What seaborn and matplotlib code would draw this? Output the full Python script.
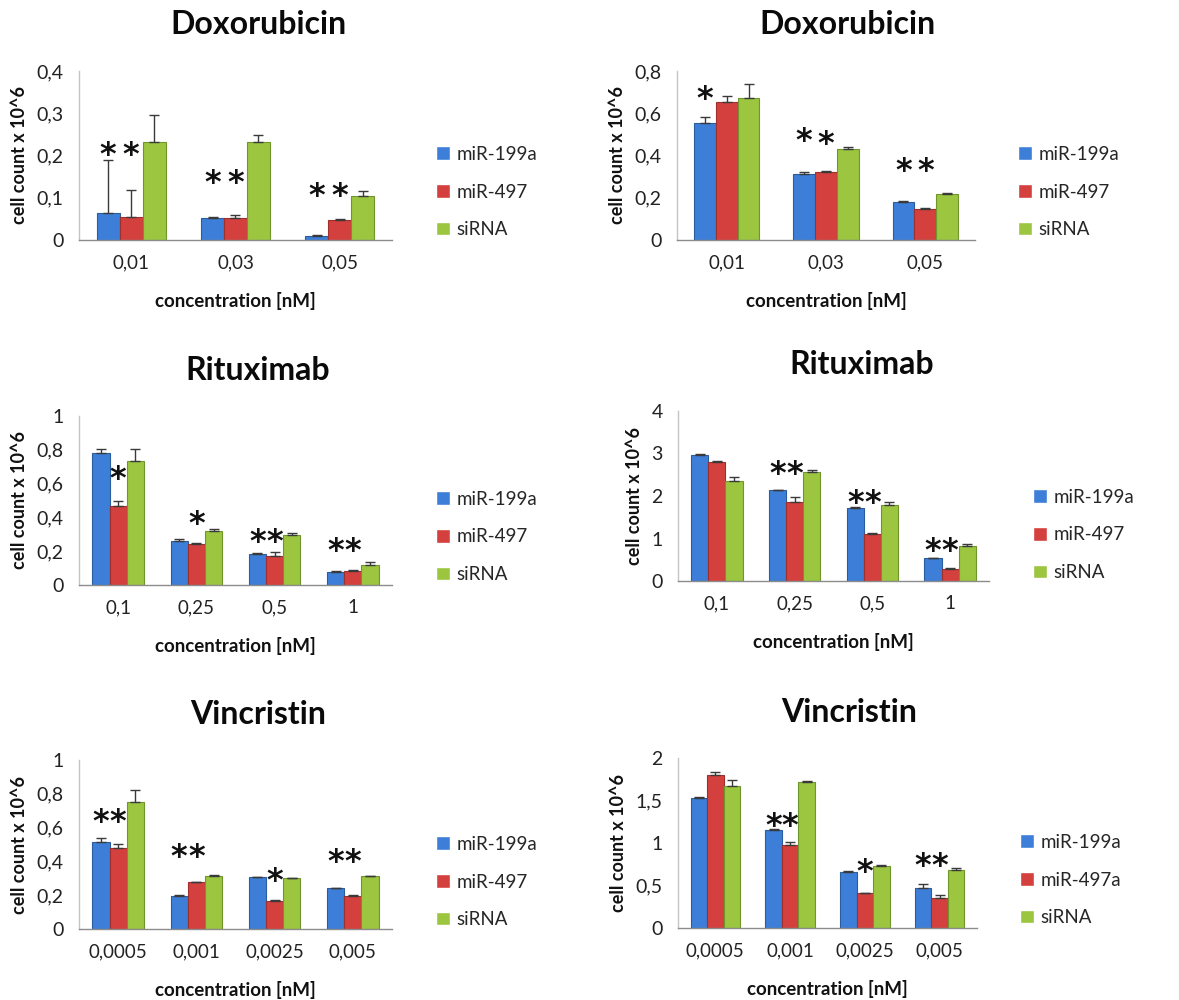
import numpy as np
import pandas as pd
import matplotlib
matplotlib.use("Agg")
import matplotlib.pyplot as plt
from matplotlib.container import BarContainer
from matplotlib.ticker import FuncFormatter, FixedLocator
import seaborn as sns

# ---------------- data ----------------
dox_conc = ["0,01", "0,03", "0,05"]
rit_conc = ["0,1", "0,25", "0,5", "1"]
vin_conc = ["0,0005", "0,001", "0,0025", "0,005"]

series_a = ["miR-199a", "miR-497", "siRNA"]
series_b = ["miR-199a", "miR-497a", "siRNA"]

# Doxorubicin, left
dox1_mir199a = [0.063, 0.051, 0.009]
dox1_mir497 = [0.054, 0.051, 0.047]
dox1_sirna = [0.231, 0.233, 0.105]
dox1_err199a = [0.126, 0.004, 0.004]
dox1_err497 = [0.064, 0.008, 0.003]
dox1_errsi = [0.064, 0.015, 0.011]

# Doxorubicin, right
dox2_mir199a = [0.556, 0.312, 0.180]
dox2_mir497 = [0.654, 0.320, 0.148]
dox2_sirna = [0.674, 0.433, 0.217]
dox2_err199a = [0.024, 0.008, 0.003]
dox2_err497 = [0.027, 0.008, 0.003]
dox2_errsi = [0.066, 0.006, 0.005]

# Rituximab, left
rit1_mir199a = [0.779, 0.260, 0.185, 0.079]
rit1_mir497 = [0.467, 0.243, 0.172, 0.085]
rit1_sirna = [0.734, 0.320, 0.296, 0.118]
rit1_err199a = [0.026, 0.012, 0.002, 0.006]
rit1_err497 = [0.028, 0.004, 0.021, 0.006]
rit1_errsi = [0.069, 0.011, 0.014, 0.016]

# Rituximab, right
rit2_mir199a = [2.97, 2.13, 1.72, 0.53]
rit2_mir497 = [2.81, 1.86, 1.11, 0.29]
rit2_sirna = [2.35, 2.56, 1.80, 0.82]
rit2_err199a = [0.02, 0.015, 0.015, 0.015]
rit2_err497 = [0.02, 0.12, 0.015, 0.025]
rit2_errsi = [0.10, 0.06, 0.07, 0.04]

# Vincristin, left
vin1_mir199a = [0.512, 0.197, 0.305, 0.240]
vin1_mir497 = [0.478, 0.276, 0.167, 0.197]
vin1_sirna = [0.754, 0.311, 0.299, 0.311]
vin1_err199a = [0.025, 0.003, 0.004, 0.004]
vin1_err497 = [0.024, 0.004, 0.006, 0.003]
vin1_errsi = [0.069, 0.006, 0.004, 0.004]

# Vincristin, right
vin2_mir199a = [1.535, 1.154, 0.657, 0.465]
vin2_mir497a = [1.803, 0.976, 0.410, 0.358]
vin2_sirna = [1.673, 1.720, 0.728, 0.681]
vin2_err199a = [0.012, 0.010, 0.008, 0.047]
vin2_err497a = [0.030, 0.030, 0.007, 0.036]
vin2_errsi = [0.063, 0.008, 0.008, 0.028]

# significance marks: (concentration index, series index)
dox1_sig = [(0, 0), (0, 1), (1, 0), (1, 1), (2, 0), (2, 1)]
dox2_sig = [(0, 0), (1, 0), (1, 1), (2, 0), (2, 1)]
rit1_sig = [(0, 1), (1, 1), (2, 0), (2, 1), (3, 0), (3, 1)]
rit2_sig = [(1, 0), (1, 1), (2, 0), (2, 1), (3, 0), (3, 1)]
vin1_sig = [(0, 0), (0, 1), (1, 0), (1, 1), (2, 1), (3, 0), (3, 1)]
vin2_sig = [(1, 0), (1, 1), (2, 1), (3, 0), (3, 1)]

# ---------------- style ----------------
sns.set_style("white")
plt.rcParams["font.family"] = ["Lato", "DejaVu Sans"]

bar_colors = ["#3D7ED8", "#D4403D", "#9CC540"]
edge_colors = ["#2B5C9C", "#9E2F2C", "#6F962C"]

W, H = 1179, 1000
fig = plt.figure(figsize=(W / 100, H / 100), dpi=100)


def comma_fmt(v, _pos):
    return f"{v:g}".replace(".", ",")


def panel(rect, title, title_x, concs, series, values, errors, ymax, ystep,
          sig, star_levels, legend_anchor):
    l, t, r, b = rect
    ax = fig.add_axes([l / W, 1 - b / H, (r - l) / W, (b - t) / H])
    rows = []
    for s, vals in zip(series, values):
        for c, v in zip(concs, vals):
            rows.append({"conc": c, "series": s, "value": v})
    df = pd.DataFrame(rows)
    sns.barplot(data=df, x="conc", y="value", hue="series", order=concs,
                hue_order=series, palette=bar_colors, width=0.66,
                saturation=1, errorbar=None, ax=ax)

    bar_sets = [c for c in ax.containers if isinstance(c, BarContainer)]
    centers = {}
    for si, cont in enumerate(bar_sets):
        xs, hs = [], []
        for ci, p in enumerate(cont.patches):
            p.set_edgecolor(edge_colors[si])
            p.set_linewidth(0.8)
            xc = p.get_x() + p.get_width() / 2
            xs.append(xc)
            hs.append(p.get_height())
            centers[(ci, si)] = xc
        err = errors[si]
        ax.errorbar(xs, hs, yerr=[np.zeros(len(err)), err], fmt="none",
                    ecolor="#3a3a3a", elinewidth=1.0, capsize=3.5,
                    capthick=1.0, zorder=5)

    for (ci, si), lvl in zip(sig, star_levels):
        ax.annotate("*", xy=(centers[(ci, si)], lvl), xytext=(0, -18),
                    textcoords="offset pixels", ha="center", va="baseline",
                    fontsize=23, fontweight="bold", family="DejaVu Sans",
                    color="#111111")

    n = len(concs)
    ax.set_xlim(-0.5, n - 0.5)
    ax.set_ylim(0, ymax)
    ax.yaxis.set_major_locator(FixedLocator(np.arange(0, ymax + ystep / 2, ystep)))
    ax.yaxis.set_major_formatter(FuncFormatter(comma_fmt))
    ax.xaxis.set_minor_locator(FixedLocator(np.arange(-0.5, n, 1.0)))
    ax.tick_params(axis="x", which="major", length=0, pad=10,
                   labelsize=13.5, labelcolor="#222222")
    ax.tick_params(axis="x", which="minor", length=6, width=1,
                   color="#8c8c8c", direction="out")
    ax.tick_params(axis="y", which="major", length=5, width=1,
                   color="#bdbdbd", direction="out", pad=6,
                   labelsize=14, labelcolor="#222222")
    for side in ("top", "right"):
        ax.spines[side].set_visible(False)
    ax.spines["left"].set_color("#c4c4c4")
    ax.spines["left"].set_linewidth(1.0)
    ax.spines["bottom"].set_color("#8c8c8c")
    ax.spines["bottom"].set_linewidth(1.0)

    ax.set_xlabel("concentration [nM]", fontsize=13.5, fontweight="bold",
                  labelpad=15, color="#111111")
    ax.set_ylabel("cell count x 10^6", fontsize=13, fontweight="bold",
                  labelpad=6, color="#111111")

    sns.move_legend(ax, "center left", bbox_to_anchor=legend_anchor,
                    bbox_transform=fig.transFigure, frameon=False, title=None,
                    fontsize=13.5, handlelength=0.75, handleheight=0.75,
                    handletextpad=0.35, labelspacing=1.1)

    fig.text(title_x / W, 1 - (t - 46) / H, title, ha="center", va="center",
             fontsize=23, fontweight="bold", color="#0a0a0a")
    return ax


panel((79, 71, 392, 240), "Doxorubicin", 258, dox_conc, series_a,
      [dox1_mir199a, dox1_mir497, dox1_sirna],
      [dox1_err199a, dox1_err497, dox1_errsi], 0.4, 0.1,
      dox1_sig, [0.222, 0.222, 0.157, 0.157, 0.126, 0.126],
      (419 / W, 1 - 192 / H))

panel((677, 71, 975, 240), "Doxorubicin", 847, dox_conc, series_a,
      [dox2_mir199a, dox2_mir497, dox2_sirna],
      [dox2_err199a, dox2_err497, dox2_errsi], 0.8, 0.2,
      dox2_sig, [0.709, 0.512, 0.496, 0.37, 0.37],
      (1001 / W, 1 - 192 / H))

panel((79, 416, 392, 585), "Rituximab", 258, rit_conc, series_a,
      [rit1_mir199a, rit1_mir497, rit1_sirna],
      [rit1_err199a, rit1_err497, rit1_errsi], 1.0, 0.2,
      rit1_sig, [0.68, 0.414, 0.306, 0.306, 0.256, 0.256],
      (419 / W, 1 - 537 / H))

panel((678, 411, 989, 581), "Rituximab", 862, rit_conc, series_a,
      [rit2_mir199a, rit2_mir497, rit2_sirna],
      [rit2_err199a, rit2_err497, rit2_errsi], 4.0, 1.0,
      rit2_sig, [2.72, 2.72, 2.05, 2.05, 0.92, 0.92],
      (1016 / W, 1 - 535 / H))

panel((79, 760, 392, 929), "Vincristin", 258, vin_conc, series_a,
      [vin1_mir199a, vin1_mir497, vin1_sirna],
      [vin1_err199a, vin1_err497, vin1_errsi], 1.0, 0.2,
      vin1_sig, [0.685, 0.685, 0.478, 0.478, 0.34, 0.449, 0.449],
      (419 / W, 1 - 882 / H))

panel((678, 758, 977, 928), "Vincristin", 849, vin_conc, series_b,
      [vin2_mir199a, vin2_mir497a, vin2_sirna],
      [vin2_err199a, vin2_err497a, vin2_errsi], 2.0, 0.5,
      vin2_sig, [1.31, 1.31, 0.76, 0.84, 0.84],
      (1003 / W, 1 - 880 / H))

fig.savefig("out.png", dpi=100, facecolor="white")
